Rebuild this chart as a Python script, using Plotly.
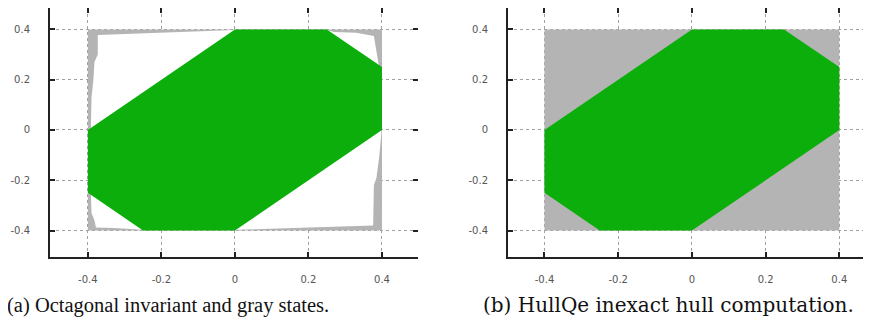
import plotly.graph_objects as go

# ---- data ----
tick_vals = [-0.4, -0.2, 0, 0.2, 0.4]
tick_text_x = ["-0.4", "-0.2", "0", "0.2", "0.4"]
tick_text_y = ["-0.4", "-0.2", "0", "0.2", "0.4"]

# outer box of states
box_x = [-0.4, 0.4, 0.4, -0.4]
box_y = [-0.4, -0.4, 0.4, 0.4]

# octagonal invariant
oct_x = [-0.4, 0.0, 0.25, 0.4, 0.4, 0.0, -0.25, -0.4]
oct_y = [0.0, 0.4, 0.4, 0.25, 0.0, -0.4, -0.4, -0.25]

# inner (non-gray) boundary of the gray states in panel (a)
inner_x = [-0.373, -0.25, -0.1, 0.0, 0.25, 0.27, 0.33, 0.36, 0.378, 0.383, 0.392, 0.398,
           0.398, 0.393, 0.385, 0.378, 0.376, 0.3, 0.2, 0.1, 0.0, -0.25, -0.3, -0.33,
           -0.378, -0.382, -0.39, -0.392, -0.392, -0.39, -0.385, -0.382, -0.373]
inner_y = [0.378, 0.384, 0.392, 0.398, 0.398, 0.39, 0.387, 0.378, 0.374, 0.33, 0.26, 0.2,
           -0.02, -0.1, -0.19, -0.22, -0.38, -0.383, -0.388, -0.392, -0.397, -0.397, -0.392, -0.39,
           -0.388, -0.36, -0.33, -0.25, 0.0, 0.13, 0.2, 0.27, 0.3]

captions = ["(a) Octagonal invariant and gray states.", "(b) HullQe inexact hull computation."]

GREEN = "#0cae0c"
GRAY = "#b4b4b4"

fig = go.Figure()

def poly(x, y, color, xa, ya):
    fig.add_trace(go.Scatter(x=x + [x[0]], y=y + [y[0]], fill="toself", fillcolor=color,
                             mode="lines", line=dict(width=0, color=color),
                             xaxis=xa, yaxis=ya, hoverinfo="skip", showlegend=False))

# panel (a)
poly(box_x, box_y, GRAY, "x", "y")
poly(inner_x, inner_y, "white", "x", "y")
poly(oct_x, oct_y, GREEN, "x", "y")
# panel (b)
poly(box_x, box_y, GRAY, "x2", "y2")
poly(oct_x, oct_y, GREEN, "x2", "y2")

# the page body has an 8px margin; lay out in window pixels minus that offset
OFF = 8
W, H = 871 - OFF, 331 - OFF
def px(v):
    return (v - OFF) / W
def py(v):
    return (H - (v - OFF)) / H

ydom = [py(257), 1.0]
dom_a = [px(50), px(418)]
dom_b = [px(508), 1.0]
yr = [-0.505, 0.485]

tickfont = dict(family="DejaVu Sans", size=10, color="#555555")
common = dict(tickmode="array", tickvals=tick_vals, zeroline=False,
              showgrid=True, gridcolor="#a0a0a0", griddash="dot", gridwidth=1,
              ticks="inside", ticklen=5, tickwidth=2, tickcolor="#222222",
              showline=True, linecolor="#222222", linewidth=2, tickfont=tickfont)
mirror = dict(tickmode="array", tickvals=tick_vals, showgrid=False, zeroline=False,
              ticks="inside", ticklen=5, tickwidth=2, tickcolor="#222222",
              showline=False, showticklabels=False)

fig.update_layout(
    width=W, height=H, margin=dict(l=0, r=0, t=0, b=0),
    paper_bgcolor="white", plot_bgcolor="white",
    xaxis=dict(domain=dom_a, range=[-0.503, 0.498], anchor="y", ticktext=tick_text_x,
               ticklabelstandoff=12, **common),
    yaxis=dict(domain=ydom, range=yr, anchor="x", ticktext=tick_text_y,
               ticklabelstandoff=16, **common),
    xaxis2=dict(domain=dom_b, range=[-0.499, 0.486], anchor="y2", ticktext=tick_text_x,
                ticklabelstandoff=12, **common),
    yaxis2=dict(domain=ydom, range=yr, anchor="x2", ticktext=tick_text_y,
                ticklabelstandoff=16, **common),
    xaxis3=dict(overlaying="x", side="top", range=[-0.503, 0.498], anchor="y", **mirror),
    yaxis3=dict(overlaying="y", side="right", range=yr, anchor="x", **mirror),
    xaxis4=dict(overlaying="x2", side="top", range=[-0.499, 0.486], anchor="y2", **mirror),
    yaxis4=dict(overlaying="y2", side="right", range=yr, anchor="x2", **mirror),
)

# dummy traces to activate mirror axes
for xa, ya in [("x3", "y3"), ("x4", "y4")]:
    fig.add_trace(go.Scatter(x=[None], y=[None], xaxis=xa, yaxis=ya, showlegend=False,
                             hoverinfo="skip"))

fig.add_annotation(text=captions[0], xref="paper", yref="paper", x=px(167.5), y=py(305),
                   xanchor="center", yanchor="middle", showarrow=False,
                   font=dict(family="Liberation Serif", size=20.5, color="#111111"))
fig.add_annotation(text=captions[1], xref="paper", yref="paper", x=px(668), y=py(305),
                   xanchor="center", yanchor="middle", showarrow=False,
                   font=dict(family="DejaVu Serif", size=20, color="#111111"))

fig.write_html("out.html")
